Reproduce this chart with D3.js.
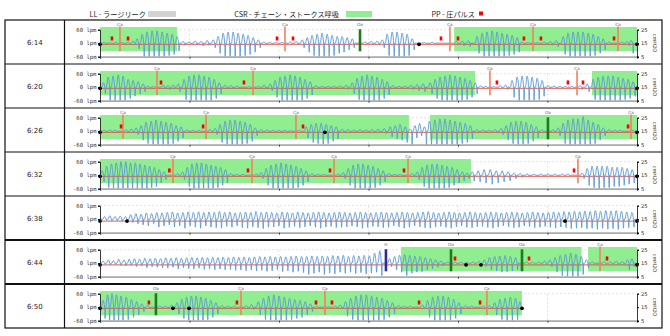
<!DOCTYPE html>
<html>
<head>
<meta charset="utf-8">
<script src="https://cdn.jsdelivr.net/npm/d3@7"></script>
<style>
  body { margin: 0; background: #fff; }
  svg { display: block; }
</style>
</head>
<body>
<svg id="chart" width="670" height="336"></svg>
<script>
// ---- data -------------------------------------------------------------
// Each row covers six minutes of the night; times are seconds from the row start.
const rowLabels = ["6:14", "6:20", "6:26", "6:32", "6:38", "6:44", "6:50"];
const rowEnd = [360, 360, 360, 360, 360, 360, 282.9];

const legendLabels = ["LL - ラージリーク", "CSR - チェーン・ストークス呼吸", "PP - 圧パルス"];
const legendColors = ["#d3d3d3", "#90ee90", "#ff0000"];

const flowTicks = [60, 0, -60];
const flowTickLabels = ["60 lpm", "0 lpm", "-60 lpm"];
const pressureTicks = [25, 15, 5];
const pressureUnit = "cmH2O";

// Cheyne-Stokes respiration episodes [start, end]
const csrSpans = [
  [[0, 51.6], [237.4, 360]],
  [[0, 251.4], [329.8, 360]],
  [[0, 207.1], [221.2, 360]],
  [[0, 248.7]],
  [],
  [[201.8, 322.8], [327.2, 360]],
  [[0, 282.9]]
];

// scored respiratory events [time, type]
const respEvents = [
  [[13.4, "Ca"], [124, "Ca"], [174.3, "Oa"], [234.6, "Ca"], [290.3, "Ca"], [347.3, "Ca"]],
  [[38.2, "Ca"], [102.6, "Ca"], [261.4, "Ca"], [319.8, "Ca"]],
  [[15.4, "Ca"], [71.1, "Ca"], [131.4, "Ca"], [300.3, "Oa"], [356, "Ca"]],
  [[48.9, "Ca"], [101.9, "Ca"], [156.9, "Ca"], [206.5, "Ca"], [320.4, "Ca"]],
  [],
  [[191.7, "H"], [235.3, "Oa"], [282.9, "Oa"], [335.2, "Ca"]],
  [[37.5, "Oa"], [94.5, "Ca"], [150.8, "Ca"], [259.4, "Ca"]]
];

// pressure pulses
const pressurePulses = [
  [8, 18.8, 118.7, 129.4, 228.6, 240, 284.2, 295.6, 344.6],
  [40.9, 96.5, 266.1, 313.7, 323.8],
  [14.1, 69.1, 136.1, 354],
  [46.5, 99.2, 154.2, 203.8, 317.8],
  [],
  [238, 287.6, 339.9],
  [32.8, 91.8, 144.8, 155.5, 213.9, 254.8]
];

// session markers on the pressure trace
const markerDots = [
  [0, 213.9, 360],
  [0, 360],
  [0, 150.8, 360],
  [0, 360],
  [0, 18.1, 311.7, 360],
  [0, 245.4, 255.4, 360],
  [0, 48.9, 59.7, 282.9]
];

// mask pressure (cmH2O)
const pressureLevel = [14.2, 14.2, 14.2, 14.2, 13.6, 13.8, 14.2];

// breaths: [time of inspiratory peak, peak flow, expiratory trough] (lpm)
const breaths = [
  [[2.7,4,-2],[6.7,3,-2],[10.7,5,-3],[14.7,4,-3],[18.8,6,-4],[22.1,10,-8],
   [24.8,20,-25],[28.2,40,-60],[31.5,50,-60],[34.9,55,-60],[38.2,55,-60],[41.6,50,-60],[44.9,45,-55],[48.3,40,-50],[51.6,30,-35],
   [55.6,8,-10],[59.7,6,-5],[63.7,10,-8],[67.7,8,-12],[71.7,12,-10],[75.8,15,-20],
   [79.1,30,-45],[82.5,45,-60],[85.8,50,-60],[89.2,50,-60],[92.5,45,-60],[95.9,40,-55],[99.2,35,-50],[102.6,25,-40],[106,15,-20],
   [109.9,5,-4],[114,4,-3],[118,3,-2],[122,4,-2],[127.4,6,-4],[131.4,8,-6],
   [135.4,15,-20],[138.8,25,-40],[142.1,35,-55],[145.5,40,-60],[148.8,45,-60],[152.2,40,-60],[155.5,35,-55],[158.9,30,-45],[162.2,30,-40],[165.6,25,-30],[169,20,-20],
   [177.7,6,-5],[181.7,8,-8],[185.7,10,-6],[189.1,15,-20],
   [192.4,40,-55],[195.8,50,-60],[199.1,50,-60],[202.5,45,-60],[205.8,40,-55],[209.2,20,-30],
   [217.2,3,-2],[222.6,4,-3],[238.7,8,-6],[242.7,10,-12],[246.7,12,-15],
   [252.7,30,-45],[256.1,45,-60],[259.4,50,-60],[262.8,55,-60],[266.1,50,-60],[269.5,45,-60],[272.9,40,-55],[276.2,35,-50],[279.6,25,-40],
   [282.9,5,-5],[286.9,4,-3],[293,3,-2],[297.7,6,-8],[301.7,8,-10],[305.7,12,-15],
   [310.4,30,-50],[313.7,45,-60],[317.1,50,-60],[320.4,50,-60],[323.8,50,-60],[327.2,45,-60],[330.5,40,-55],[333.9,30,-45],[337.2,20,-30],
   [341.2,6,-5],[349.9,5,-4],[353.3,8,-10],[356,12,-45]],
  [[2.2,20,-30],[5.4,45,-60],[8.7,50,-60],[12.1,55,-60],[15.4,50,-60],[18.8,35,-50],[22.1,30,-40],[25.5,25,-30],[28.8,15,-20],
   [32.2,5,-4],[35.5,3,-2],[42.2,10,-8],[45.6,8,-10],[48.9,10,-8],[52.3,15,-20],
   [56.3,35,-55],[59.7,50,-60],[63,55,-60],[66.4,55,-60],[69.7,50,-60],[73.1,45,-60],[76.5,35,-50],[79.8,20,-30],
   [83.8,10,-8],[87.8,8,-6],[91.8,6,-5],[99.9,4,-3],[106,5,-4],[109.9,10,-8],[114,15,-15],
   [117.3,30,-45],[120.7,45,-60],[124,50,-60],[127.4,55,-60],[130.7,50,-60],[134.1,45,-60],[137.4,35,-50],[140.8,25,-35],
   [144.8,8,-6],[148.8,5,-4],[152.9,4,-3],[156.9,5,-3],[161,6,-4],[165,10,-10],
   [169,20,-30],[172.3,40,-55],[175.6,50,-60],[179,55,-60],[182.3,50,-60],[185.7,45,-60],[189.1,35,-50],[192.4,25,-35],
   [196.4,8,-6],[200.4,5,-4],[204.5,6,-5],[208.5,10,-10],[212.5,12,-15],[216.5,15,-20],
   [221.2,20,-30],[224.6,35,-50],[227.9,45,-60],[231.3,50,-60],[234.6,55,-60],[238,50,-60],[241.3,45,-60],[244.7,40,-55],[248,30,-45],[251.4,20,-30],
   [255.2,6,-4],[258.6,4,-3],[264.1,3,-2],[268.2,8,-5],[271.8,10,-10],
   [276.2,30,-45],[279.6,45,-60],[282.9,50,-60],[286.3,50,-60],[289.6,45,-60],[293,40,-55],[296.3,30,-40],
   [300.3,8,-6],[304.4,5,-4],[308.4,4,-3],[312,3,-2],[316.4,4,-3],[321.8,8,-10],[326.5,15,-20],
   [330.5,35,-55],[333.9,45,-60],[337.2,50,-60],[340.6,50,-60],[343.9,50,-60],[347.3,45,-60],[350.6,40,-55],[354,35,-50],[357.3,25,-40]],
  [[2.7,4,-2],[6.7,6,-3],[10.1,5,-4],[17.4,6,-4],[20.8,10,-8],[24.1,15,-15],
   [27.5,25,-40],[30.8,40,-55],[34.2,45,-60],[37.5,50,-60],[40.9,45,-60],[44.2,40,-60],[47.6,35,-55],[50.9,25,-45],[54.3,20,-30],
   [58.3,6,-5],[62.3,4,-3],[66.4,4,-3],[73.7,8,-6],[77.1,12,-15],
   [80.4,30,-50],[83.8,45,-60],[87.2,50,-60],[90.5,50,-60],[93.9,45,-60],[97.2,40,-55],[100.6,30,-45],[103.9,15,-20],
   [107.9,8,-6],[112,6,-5],[116,5,-4],[120,4,-3],[124,4,-3],[128,3,-2],[133.4,5,-3],
   [138.1,20,-30],[141.5,30,-50],[144.8,35,-55],[148.2,35,-60],[151.5,30,-55],[154.9,25,-45],[158.2,20,-35],
   [162.2,10,-8],[166.3,8,-6],[170.3,6,-5],[174.3,8,-5],[178.3,6,-4],[182.3,8,-6],[186.4,10,-8],[190.4,12,-10],
   [194.4,20,-25],[197.8,25,-35],[201.1,30,-40],[204.5,20,-50],
   [207.8,10,-60],[211,25,-30],[214.2,35,-20],[217.4,20,-60],
   [220.8,45,-60],[224.4,50,-60],[227.8,55,-60],[231.2,55,-60],[234.6,50,-60],[238,45,-60],[241.4,40,-55],[244.8,35,-50],[248.2,25,-35],
   [252.7,8,-6],[256.8,6,-4],[260.8,5,-3],[264.8,8,-6],[268.8,12,-15],
   [272.2,25,-40],[275.5,40,-55],[278.9,45,-60],[282.2,45,-60],[285.6,40,-55],[289,30,-45],[292.3,20,-30],
   [296.3,6,-5],[303.7,8,-6],[307,15,-20],
   [310.4,35,-55],[313.7,50,-60],[317.1,55,-60],[320.4,55,-60],[323.8,65,-60],[327.2,50,-60],[330.5,40,-55],[333.9,30,-40],[337.2,15,-20],
   [341.2,8,-6],[345.3,6,-5],[348.6,5,-4],[357.3,4,-3]],
  [[1.3,20,-30],[4.4,40,-55],[7.6,50,-60],[10.8,55,-60],[14,60,-60],[17.2,60,-60],[20.4,55,-60],[23.6,55,-60],[26.8,50,-60],[30,45,-60],[33.2,40,-55],[36.4,35,-50],[39.6,25,-35],[42.8,15,-20],
   [52,8,-6],[55.2,15,-20],
   [58.4,35,-50],[61.6,50,-60],[64.8,55,-60],[68,55,-60],[71.2,50,-60],[74.4,45,-60],[77.6,40,-55],[80.8,35,-45],[84,25,-35],
   [87.8,8,-6],[91.8,5,-4],[95.9,4,-3],[104.6,6,-4],[107.9,12,-15],
   [111.3,30,-45],[114.6,45,-60],[118,50,-60],[121.3,55,-60],[124.7,50,-60],[128,45,-60],[131.4,40,-55],[134.7,30,-45],[138.1,20,-30],
   [142.1,8,-6],[146.1,5,-4],[150.2,4,-3],[159.6,6,-4],[162.9,12,-15],
   [166.3,30,-45],[169.6,45,-60],[173,50,-60],[176.3,50,-60],[179.7,45,-60],[183,40,-55],[186.4,30,-45],[189.7,20,-30],
   [193.7,8,-6],[197.8,5,-4],[201.1,4,-3],[209.2,8,-6],[212.5,15,-20],
   [215.9,35,-50],[219.2,45,-60],[222.6,50,-60],[225.9,50,-60],[229.3,45,-60],[232.6,40,-55],[236,35,-45],[239.3,25,-35],[242.7,15,-25],[246,10,-15],
   [249.4,15,-25],[253.4,20,-30],[257.4,25,-35],[261.5,25,-40],[265.5,20,-35],[269.5,20,-30],[273.5,15,-25],[277.5,10,-15],[281.6,8,-10],[286.3,6,-6],[291,5,-4],[295.6,5,-4],[300.3,6,-4],[305,5,-3],[309.8,6,-3],[313.7,5,-3],
   [323.1,10,-15],[326.5,30,-45],[329.8,40,-55],[333.2,40,-60],[336.5,40,-55],[339.9,40,-55],[343.3,35,-50],[346.6,35,-50],[350,35,-45],[353.3,30,-40],[356.7,25,-35]],
  [[3,12,-5],[6.5,15,-8],[10,12,-6],[13.5,14,-10],[17,12,-8],[20.5,20,-15],[24,25,-20],[27.5,22,-25],[31,28,-30],[34.5,25,-20],
   [38,30,-35],[41.5,28,-30],[45,30,-25],[48.5,32,-35],[52,28,-30],[55.5,30,-40],[59,32,-30],[62.5,30,-35],[66,33,-40],[69.5,30,-30],
   [73,32,-35],[76.5,30,-38],[80,34,-40],[83.5,30,-32],[87,32,-36],[90.5,28,-30],[94,30,-38],[97.5,32,-40],[101,30,-34],[104.5,34,-38],
   [108,30,-42],[111.5,32,-36],[115,30,-35],[118.5,28,-30],[122,32,-40],[125.5,30,-36],[129,28,-32],[132.5,32,-38],[136,30,-34],[139.5,28,-30],
   [143,30,-36],[146.5,32,-40],[150,30,-35],[153.5,28,-32],[157,30,-38],[160.5,32,-36],[164,30,-34],[167.5,28,-30],[171,30,-35],[174.5,32,-40],
   [178,30,-36],[181.5,28,-32],[185,30,-34],[188.5,32,-38],[192,30,-36],[195.5,28,-30],[199,30,-34],[202.5,32,-40],[206,30,-36],[209.5,28,-30],
   [213,30,-34],[216.5,32,-38],[220,34,-40],[223.5,30,-35],[227,28,-32],[230.5,30,-36],[234,32,-40],[237.5,30,-34],[241,28,-30],[244.5,30,-36],
   [248,32,-38],[251.5,30,-34],[255,28,-32],[258.5,30,-36],[262,32,-40],[265.5,30,-35],[269,28,-30],[272.5,30,-34],[276,32,-38],[279.5,30,-36],
   [283,28,-30],[286.5,30,-34],[290,32,-38],[293.5,30,-36],[297,28,-32],[300.5,30,-36],[304,32,-40],[307.5,30,-35],[311,34,-38],[314.5,32,-42],
   [318,35,-40],[321.5,33,-38],[325,36,-42],[328.5,34,-40],[332,38,-45],[335.5,35,-40],[339,38,-44],[342.5,36,-42],[346,38,-45],[349.5,35,-40],
   [353,32,-38],[356.5,30,-35]],
  [[2,10,-5],[5.5,15,-8],[9,12,-6],[12.5,18,-10],[16,15,-12],[19.5,18,-10],[23,20,-15],[26.5,18,-12],[30,22,-20],[33.5,20,-15],
   [37,22,-18],[40.5,20,-20],[44,24,-22],[47.5,22,-18],[51,25,-25],[54.5,22,-20],[58,24,-24],[61.5,26,-26],[65,24,-22],[68.5,26,-28],
   [72,24,-24],[75.5,26,-30],[79,25,-26],[82.5,27,-30],[86,25,-28],[89.5,28,-32],[93,26,-30],[96.5,28,-34],[100,26,-30],[103.5,28,-35],
   [107,30,-32],[110.5,28,-36],[114,30,-34],[117.5,28,-30],[121,30,-38],[124.5,28,-34],[128,30,-40],[131.5,32,-36],[135,30,-42],[138.5,30,-50],
   [142,32,-45],[145.5,30,-40],[149,32,-50],[152.5,30,-44],[156,34,-48],[159.5,32,-40],[163,35,-45],[166.5,30,-40],[170,34,-46],[173.5,32,-42],
   [177,35,-48],[180.5,33,-44],[184,45,-40],[187.5,55,-55],
   [194,20,-15],[197.4,30,-30],[200.8,35,-40],[204.2,38,-55],[207.6,35,-45],[211,32,-40],[214.5,30,-38],[218,25,-30],[221.5,20,-25],[225,15,-18],[228.5,10,-10],
   [233,5,-3],[238,6,-4],[242,5,-3],[246,4,-3],[250,6,-4],[254,8,-5],
   [257.5,15,-15],[261,25,-30],[264.5,30,-35],[268,32,-40],[271.5,34,-38],[275,30,-35],[278.5,25,-30],
   [286,6,-4],[290,5,-3],[294,6,-4],[298,10,-8],[301.5,15,-15],
   [305,25,-40],[308.5,35,-55],[312,40,-60],[315.5,45,-60],[319,40,-60],[322.5,30,-50],[326,15,-20],
   [330,6,-4],[338,8,-4],[342,6,-4],[346,10,-8],[350,8,-6],[353.5,15,-30],[356.5,20,-15]],
  [[2,30,-50],[5,55,-60],[8,60,-60],[11,55,-60],[14,50,-60],[17.5,45,-55],[21,35,-45],[24.5,25,-35],[28,15,-20],
   [32,8,-6],[40,6,-4],[44,5,-3],[48,10,-8],
   [51.5,20,-30],[54.8,35,-50],[58,45,-60],[61.2,50,-60],[64.4,50,-60],[67.6,45,-60],[70.8,40,-55],[74.2,30,-45],[77.6,20,-30],
   [82,8,-6],[86,6,-4],[90,5,-3],[98,8,-6],[101.5,12,-10],
   [106,25,-35],[109.5,40,-55],[113,50,-60],[116.5,55,-60],[120,50,-60],[123.5,45,-60],[127,40,-55],[130.5,35,-50],[134,30,-45],[137.5,25,-35],[141,15,-20],
   [145,6,-4],[153,4,-3],[157.5,6,-4],[161,10,-8],
   [164.5,25,-40],[168,40,-55],[171.5,50,-60],[175,55,-60],[178.5,55,-60],[182,50,-60],[185.5,45,-60],[189,40,-55],[192.5,30,-45],[196,20,-30],
   [200,8,-6],[204,5,-4],[208,6,-3],[216,10,-8],
   [219.5,30,-45],[223,45,-60],[226.5,50,-60],[230,50,-60],[233.5,45,-60],[237,35,-50],[240.5,20,-30],
   [245,8,-6],[249,6,-4],[257,5,-3],[261,8,-6],
   [264.5,20,-35],[268,35,-55],[271.5,40,-60],[275,45,-60],[278.5,40,-55],[281.5,25,-40]]
];

// ---- layout -----------------------------------------------------------
const rowTop0 = 20, rowH = 44;
const tableLeft = 5, tableDiv = 64.5, tableRight = 662;
const plotLeft = 100, plotRight = 637;
const eventColors = { Ca: "#f2825e", Oa: "#1d7a1d", H: "#2b2b9a" };

const svg = d3.select("#chart");

const x = d3.scaleLinear().domain([0, 360]).range([plotLeft, plotRight]);
const yFlow = d3.scaleLinear().domain([-60, 60]).range([36.7, 9.7]);
const yPress = d3.scaleLinear().domain([5, 25]).range([36.7, 9.7]);

// legend
const legendText = [146, 339, 475];
const legend = svg.append("g")
  .attr("font-family", "'Noto Sans CJK JP', 'Noto Sans', sans-serif")
  .attr("font-size", 7.2)
  .attr("fill", "#222");
legendLabels.forEach((lab, i) => {
  legend.append("text").attr("x", legendText[i]).attr("y", 16.8)
    .attr("text-anchor", "end").text(lab);
});
legend.append("rect").attr("x", 148).attr("y", 11).attr("width", 28).attr("height", 6).attr("fill", legendColors[0]);
legend.append("rect").attr("x", 346).attr("y", 11).attr("width", 26).attr("height", 6).attr("fill", legendColors[1]);
legend.append("rect").attr("x", 479).attr("y", 11.5).attr("width", 4).attr("height", 4).attr("fill", legendColors[2]);

// flow trace built from the breath list
function flowPoints(list, end) {
  const raw = [[0, 0]];
  d3.sort(list, d => d[0]).forEach(([t, p, tr]) => {
    raw.push([t - 1.1, 0], [t, p], [t + 1.1, 0], [t + 1.45, tr], [t + 1.8, 0]);
  });
  raw.push([end, 0]);
  const out = [];
  raw.forEach(pt => {
    if (pt[0] > end) return;
    if (!out.length || pt[0] > out[out.length - 1][0] + 0.05) out.push(pt);
  });
  return out;
}

const flowLine = d3.line()
  .x(d => x(d[0]))
  .y(d => yFlow(d[1]))
  .curve(d3.curveMonotoneX);

rowLabels.forEach((label, r) => {
  const top = rowTop0 + r * rowH;
  const g = svg.append("g").attr("transform", `translate(0,${top})`);

  // row label
  g.append("text")
    .attr("x", (tableLeft + tableDiv) / 2).attr("y", rowH / 2 + 2.5)
    .attr("text-anchor", "middle")
    .attr("font-family", "'DejaVu Sans', sans-serif")
    .attr("font-size", 7).attr("fill", "#222")
    .text(label);

  // grid
  const grid = g.append("g").attr("stroke", "#d8d8d8").attr("stroke-width", 0.7).attr("stroke-dasharray", "2,2");
  grid.append("line").attr("x1", x(0)).attr("x2", x(360)).attr("y1", yFlow(60)).attr("y2", yFlow(60));
  [60, 120, 180, 240, 300].forEach(m => {
    grid.append("line").attr("x1", x(m)).attr("x2", x(m)).attr("y1", yFlow(60)).attr("y2", yFlow(-60));
  });

  // CSR shading
  g.selectAll("rect.csr").data(csrSpans[r]).join("rect")
    .attr("class", "csr")
    .attr("x", d => x(d[0])).attr("width", d => x(d[1]) - x(d[0]))
    .attr("y", yFlow(72)).attr("height", yFlow(-36) - yFlow(72))
    .attr("fill", legendColors[1]);

  // mask pressure
  g.append("line")
    .attr("x1", x(0)).attr("x2", x(rowEnd[r]))
    .attr("y1", yPress(pressureLevel[r])).attr("y2", yPress(pressureLevel[r]))
    .attr("stroke", "#ec4a3a").attr("stroke-opacity", 0.75).attr("stroke-width", 1.3);

  // flow
  const clipId = "clip" + r;
  g.append("clipPath").attr("id", clipId).append("rect")
    .attr("x", x(0)).attr("y", 5).attr("width", x(360) - x(0)).attr("height", yFlow(-60) - 5);
  g.append("path")
    .attr("clip-path", `url(#${clipId})`)
    .attr("d", flowLine(flowPoints(breaths[r], rowEnd[r])))
    .attr("fill", "none").attr("stroke", "#5e9ad2").attr("stroke-width", 0.95)
    .attr("stroke-linejoin", "round");

  // events
  const ev = g.selectAll("g.ev").data(respEvents[r]).join("g").attr("class", "ev");
  ev.append("line")
    .attr("x1", d => x(d[0])).attr("x2", d => x(d[0]))
    .attr("y1", d => d[1] === "Ca" ? yFlow(74) : yFlow(62))
    .attr("y2", yFlow(-36))
    .attr("stroke", d => eventColors[d[1]])
    .attr("stroke-width", d => d[1] === "Ca" ? 1.8 : 2.6)
    .attr("stroke-opacity", d => d[1] === "Ca" ? 0.9 : 1);
  ev.append("text")
    .attr("x", d => x(d[0])).attr("y", 5.6)
    .attr("text-anchor", "middle")
    .attr("font-family", "'DejaVu Sans', sans-serif")
    .attr("font-size", 4.2).attr("fill", "#666")
    .text(d => d[1]);

  // pressure pulses
  g.selectAll("rect.pp").data(pressurePulses[r]).join("rect")
    .attr("class", "pp")
    .attr("x", d => x(d) - 1.3).attr("width", 2.6)
    .attr("y", yFlow(30)).attr("height", yFlow(12) - yFlow(30))
    .attr("fill", legendColors[2]);

  // markers
  g.selectAll("circle.mk").data(markerDots[r]).join("circle")
    .attr("class", "mk")
    .attr("cx", d => x(d)).attr("cy", yPress(pressureLevel[r]))
    .attr("r", 1.9).attr("fill", "#000");

  // axes
  const ax = g.append("g").attr("transform", `translate(0,${yFlow(-60)})`)
    .call(d3.axisBottom(x).tickValues([0, 60, 120, 180, 240, 300, 360]).tickSize(2).tickFormat(""));
  ax.select(".domain").attr("stroke", "#aaa").attr("stroke-width", 1.8);
  ax.selectAll(".tick line").attr("stroke", "#444");

  const ayl = g.append("g").attr("transform", `translate(${x(0)},0)`)
    .call(d3.axisLeft(yFlow).tickValues(flowTicks).tickSize(2).tickPadding(1.5)
      .tickFormat((d, i) => flowTickLabels[i]));
  ayl.select(".domain").attr("stroke", "#222").attr("stroke-width", 0.9);
  ayl.selectAll("text").attr("font-family", "'DejaVu Sans Mono', monospace").attr("font-size", 5.6).attr("fill", "#333");

  const ayr = g.append("g").attr("transform", `translate(${x(360)},0)`)
    .call(d3.axisRight(yPress).tickValues(pressureTicks).tickSize(2).tickPadding(2));
  ayr.select(".domain").attr("stroke", "#222").attr("stroke-width", 0.9);
  ayr.selectAll("text").attr("font-family", "'DejaVu Sans', sans-serif").attr("font-size", 5.2).attr("fill", "#333");

  g.append("text")
    .attr("transform", `translate(653,${rowH / 2 + 1}) rotate(90)`)
    .attr("text-anchor", "middle")
    .attr("font-family", "'DejaVu Sans', sans-serif")
    .attr("font-size", 5).attr("fill", "#333")
    .text(pressureUnit);
});

// table frame
const frame = svg.append("g").attr("stroke", "#111").attr("fill", "none");
frame.append("rect").attr("x", tableLeft).attr("y", rowTop0)
  .attr("width", tableRight - tableLeft).attr("height", rowLabels.length * rowH)
  .attr("stroke-width", 1.2);
frame.append("line").attr("x1", tableDiv).attr("x2", tableDiv)
  .attr("y1", rowTop0).attr("y2", rowTop0 + rowLabels.length * rowH).attr("stroke-width", 1.2);
d3.range(1, rowLabels.length).forEach(i => {
  frame.append("line").attr("x1", tableLeft).attr("x2", tableRight)
    .attr("y1", rowTop0 + i * rowH).attr("y2", rowTop0 + i * rowH)
    .attr("stroke-width", i >= 5 ? 2 : 1.2);
});
</script>
</body>
</html>
